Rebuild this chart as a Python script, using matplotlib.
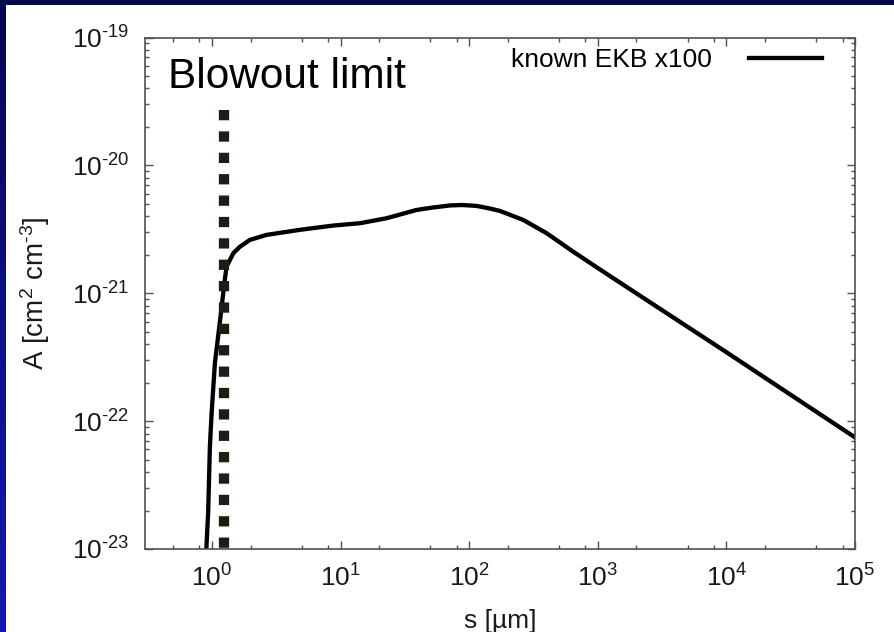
import numpy as np
import matplotlib
matplotlib.use('Agg')
import matplotlib.pyplot as plt
from matplotlib.colors import to_rgb
from matplotlib.ticker import FixedLocator, NullFormatter, FuncFormatter

plt.rcParams['font.family'] = ['Liberation Sans', 'DejaVu Sans']
plt.rcParams['mathtext.fontset'] = 'custom'
plt.rcParams['mathtext.rm'] = 'Liberation Sans'
plt.rcParams['mathtext.it'] = 'Liberation Sans:italic'
plt.rcParams['axes.unicode_minus'] = False

# grain size [um] and cross-section area density, known EKB x100
s_um = [0.895, 0.935, 0.965, 0.995, 1.055, 1.15, 1.26, 1.30, 1.47, 1.65, 1.97, 2.66,
        4.8, 8.7, 14.2, 22.8, 39, 52, 71, 88, 114, 145, 174, 264, 400, 646, 1170,
        2260, 1.0e4, 1.0e5]
area = [8.0e-24, 1.9e-23, 6.3e-23, 1.15e-22, 2.84e-22, 5.8e-22, 1.27e-21, 1.62e-21,
        2.06e-21, 2.31e-21, 2.61e-21, 2.86e-21, 3.13e-21, 3.38e-21, 3.53e-21, 3.86e-21,
        4.48e-21, 4.68e-21, 4.86e-21, 4.90e-21, 4.82e-21, 4.60e-21, 4.40e-21, 3.74e-21,
        2.95e-21, 2.11e-21, 1.42e-21, 9.2e-22, 3.46e-22, 7.46e-23]

s_blowout = 1.24
blowout_span = [2.7e-20, 1.0e-23]

x_major = [1e0, 1e1, 1e2, 1e3, 1e4, 1e5]
x_minor = [m * 10.0 ** d for d in range(-1, 5) for m in (2, 5, 8)]
y_major = [1e-23, 1e-22, 1e-21, 1e-20, 1e-19]
y_minor = [m * 10.0 ** d for d in range(-23, -19) for m in range(2, 10)]

W, H = 894, 632
fig = plt.figure(figsize=(W / 100, H / 100), dpi=100)

# slide backdrop: blue gradient border round a white panel
top_c, bot_c = np.array(to_rgb('#05084c')), np.array(to_rgb('#1616b6'))
t = np.linspace(0, 1, H).reshape(-1, 1, 1)
backdrop = np.broadcast_to(top_c + (bot_c - top_c) * t, (H, W, 3)).copy()
backdrop[5:, 6:, :] = 1.0
fig.figimage(backdrop, xo=0, yo=0, origin='upper', zorder=-5)

ax = fig.add_axes([145 / W, 1 - 549 / H, 710 / W, 511.5 / H])
ax.set_facecolor('white')

ax.plot(s_um, area, color='black', lw=3.1, solid_joinstyle='round',
        label='known EKB x100')
ax.plot([s_blowout, s_blowout], blowout_span, color='#201c12', lw=7.4,
        linestyle=(0, (1.0, 1.08)), dash_capstyle='butt')

ax.set_xscale('log')
ax.set_yscale('log')
ax.set_xlim(10 ** -0.52, 1e5)
ax.set_ylim(1e-23, 1e-19)


def pow10(v, pos):
    e = int(round(np.log10(v)))
    if e < 0:
        return r'$\mathdefault{10^{\text{-}%d}}$' % -e
    return r'$\mathdefault{10^{%d}}$' % e


ax.xaxis.set_major_locator(FixedLocator(x_major))
ax.xaxis.set_minor_locator(FixedLocator([v for v in x_minor if 0.3 < v < 1e5]))
ax.yaxis.set_major_locator(FixedLocator(y_major))
ax.yaxis.set_minor_locator(FixedLocator(y_minor))
ax.xaxis.set_major_formatter(FuncFormatter(pow10))
ax.yaxis.set_major_formatter(FuncFormatter(pow10))
ax.xaxis.set_minor_formatter(NullFormatter())
ax.yaxis.set_minor_formatter(NullFormatter())

ax.tick_params(which='both', direction='in', top=True, right=True,
               color='#505050', labelcolor='#1a1a1a', labelsize=19)
ax.tick_params(which='major', length=6, width=1.0)
ax.tick_params(which='minor', length=3, width=1.0)
ax.tick_params(axis='x', which='major', pad=11)
ax.tick_params(axis='y', which='major', pad=11)
for sp in ax.spines.values():
    sp.set_color('#505050')
    sp.set_linewidth(1.2)

ax.set_xlabel('s [µm]', fontsize=19, color='#1a1a1a')
ax.xaxis.set_label_coords(0.5, -0.117)
ax.set_ylabel(r'A [cm$^2$ cm$^{\text{-}3}$]', fontsize=20, color='#1a1a1a')
ax.yaxis.set_label_coords(-0.131, 0.5)

ax.text(0.0324, 0.9007, 'Blowout limit', transform=ax.transAxes,
        fontsize=30.5, color='black', ha='left', va='baseline')

ax.legend(loc='center right', bbox_to_anchor=(0.953, 0.956), frameon=False,
          markerfirst=False, fontsize=19, handlelength=2.75, handletextpad=1.4,
          borderpad=0, borderaxespad=0)

fig.savefig('out.png', dpi=100)
